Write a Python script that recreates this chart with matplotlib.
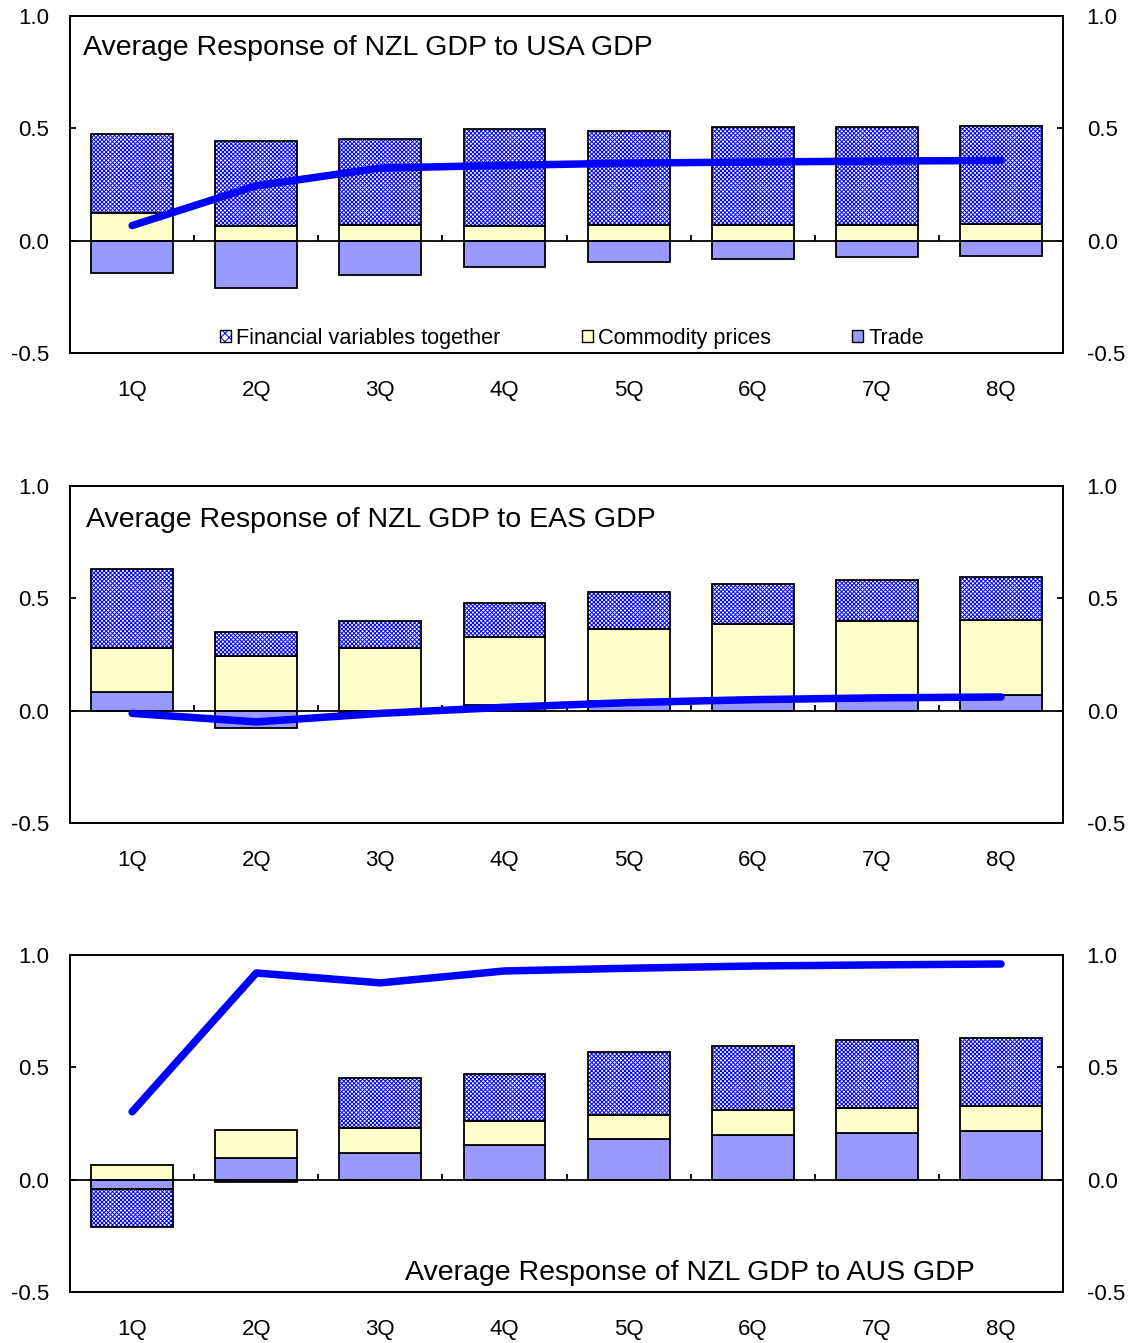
import numpy as np
import matplotlib
matplotlib.use("Agg")
import matplotlib.pyplot as plt
from matplotlib.patches import Patch
from matplotlib.legend_handler import HandlerTuple
from matplotlib.ticker import FormatStrFormatter

plt.rcParams['font.family'] = ['Liberation Sans', 'DejaVu Sans']
plt.rcParams['axes.unicode_minus'] = False
plt.rcParams['hatch.linewidth'] = 0.7

quarters = ["1Q", "2Q", "3Q", "4Q", "5Q", "6Q", "7Q", "8Q"]

# USA shock
usa_fin = [0.352, 0.380, 0.385, 0.429, 0.421, 0.434, 0.433, 0.436]
usa_com = [0.124, 0.064, 0.068, 0.067, 0.068, 0.071, 0.071, 0.074]
usa_trade = [-0.142, -0.213, -0.151, -0.117, -0.096, -0.083, -0.073, -0.067]
usa_total = [0.067, 0.244, 0.323, 0.335, 0.345, 0.350, 0.354, 0.357]

# EAS shock
eas_fin = [0.352, 0.108, 0.121, 0.154, 0.167, 0.179, 0.185, 0.190]
eas_com = [0.198, 0.244, 0.279, 0.302, 0.318, 0.330, 0.334, 0.333]
eas_trade = [0.081, -0.077, -0.005, 0.025, 0.045, 0.055, 0.063, 0.071]
eas_total = [-0.012, -0.050, -0.012, 0.015, 0.036, 0.049, 0.057, 0.061]

# AUS shock
aus_fin = [-0.168, -0.010, 0.224, 0.212, 0.277, 0.285, 0.302, 0.302]
aus_com = [0.067, 0.124, 0.111, 0.103, 0.109, 0.111, 0.113, 0.115]
aus_trade = [-0.041, 0.098, 0.117, 0.156, 0.181, 0.197, 0.207, 0.215]
aus_total = [0.302, 0.920, 0.876, 0.929, 0.941, 0.951, 0.956, 0.960]

titles = ["Average Response of NZL GDP to USA GDP",
          "Average Response of NZL GDP to EAS GDP",
          "Average Response of NZL GDP to AUS GDP"]

FIN_C = '#0000ff'
COM_C = '#ffffcc'
TRADE_C = '#9999ff'
LINE_C = '#0000ff'
HATCH = 'xxxxxxxx'


def panel(ax, fin, com, trade, total, title, title_pos, title_ha):
    x = np.arange(len(quarters))
    w = 0.66
    pos = np.zeros(len(x))
    neg = np.zeros(len(x))
    # stack order: trade, commodity, financial (Excel style pos/neg stacking)
    for vals, kind in [(trade, 'trade'), (com, 'com'), (fin, 'fin')]:
        vals = np.array(vals)
        base = np.where(vals >= 0, pos, neg)
        if kind == 'fin':
            ax.bar(x, vals, w, bottom=base, color='white', edgecolor=FIN_C,
                   hatch=HATCH, linewidth=0, zorder=2)
            ax.bar(x, vals, w, bottom=base, fill=False, edgecolor='black',
                   linewidth=1.3, zorder=3)
        else:
            c = TRADE_C if kind == 'trade' else COM_C
            ax.bar(x, vals, w, bottom=base, color=c, edgecolor='black',
                   linewidth=1.3, zorder=3)
        pos = pos + np.where(vals >= 0, vals, 0)
        neg = neg + np.where(vals < 0, vals, 0)

    ax.axhline(0, color='black', lw=1.3, zorder=4)
    ax.vlines(x[:-1] + 0.5, 0, 0.025, color='black', lw=1.3, zorder=4)
    ax.plot(x, total, color=LINE_C, lw=5.4, solid_capstyle='round', zorder=5)

    ax.set_xlim(-0.5, len(x) - 0.5)
    ax.set_ylim(-0.5, 1.0)
    ax.set_yticks([-0.5, 0.0, 0.5, 1.0])
    ax.yaxis.set_major_formatter(FormatStrFormatter('%.1f'))
    ax.set_xticks(x)
    ax.set_xticklabels(quarters)
    ax.tick_params(axis='x', length=0, pad=19.5, labelsize=16)
    ax.tick_params(axis='y', direction='in', length=4.5, width=1.3,
                   pad=15, labelsize=16)
    for s in ax.spines.values():
        s.set_linewidth(1.3)

    ax2 = ax.twinx()
    ax2.set_ylim(-0.5, 1.0)
    ax2.set_yticks([-0.5, 0.0, 0.5, 1.0])
    ax2.yaxis.set_major_formatter(FormatStrFormatter('%.1f'))
    ax2.tick_params(axis='y', direction='in', length=4.5, width=1.3,
                    pad=17, labelsize=16)
    for s in ax2.spines.values():
        s.set_linewidth(1.3)

    ax.text(title_pos[0], title_pos[1], title, transform=ax.transAxes,
            ha=title_ha, va='center', fontsize=20.5)


fig = plt.figure(figsize=(11.39, 13.43), dpi=100)
left, width, height = 0.0615, 0.8718, 0.2509
ax1 = fig.add_axes([left, 0.7372, width, height])
ax2 = fig.add_axes([left, 0.3872, width, height])
ax3 = fig.add_axes([left, 0.0380, width, height])

panel(ax1, usa_fin, usa_com, usa_trade, usa_total, titles[0], (0.013, 0.906), 'left')
panel(ax2, eas_fin, eas_com, eas_trade, eas_total, titles[1], (0.016, 0.900), 'left')
panel(ax3, aus_fin, aus_com, aus_trade, aus_total, titles[2], (0.911, 0.056), 'right')

fin_handle = (Patch(facecolor='white', edgecolor=FIN_C, hatch='xxxx', linewidth=0),
              Patch(fill=False, edgecolor='black', linewidth=1.0))
handles = [fin_handle,
           Patch(facecolor=COM_C, edgecolor='black', linewidth=1.0),
           Patch(facecolor=TRADE_C, edgecolor='black', linewidth=1.0)]
labels = ["Financial variables together", "Commodity prices", "Trade"]
leg = ax1.legend(handles, labels, loc='center left', bbox_to_anchor=(0.151, 0.043),
                 ncol=3, frameon=False, fontsize=15.6, handlelength=0.5,
                 handleheight=0.5, handletextpad=0.25, columnspacing=3.75,
                 borderpad=0, borderaxespad=0,
                 handler_map={tuple: HandlerTuple(ndivide=1, pad=0)})
leg.set_zorder(10)

fig.savefig("out.png", dpi=100)
